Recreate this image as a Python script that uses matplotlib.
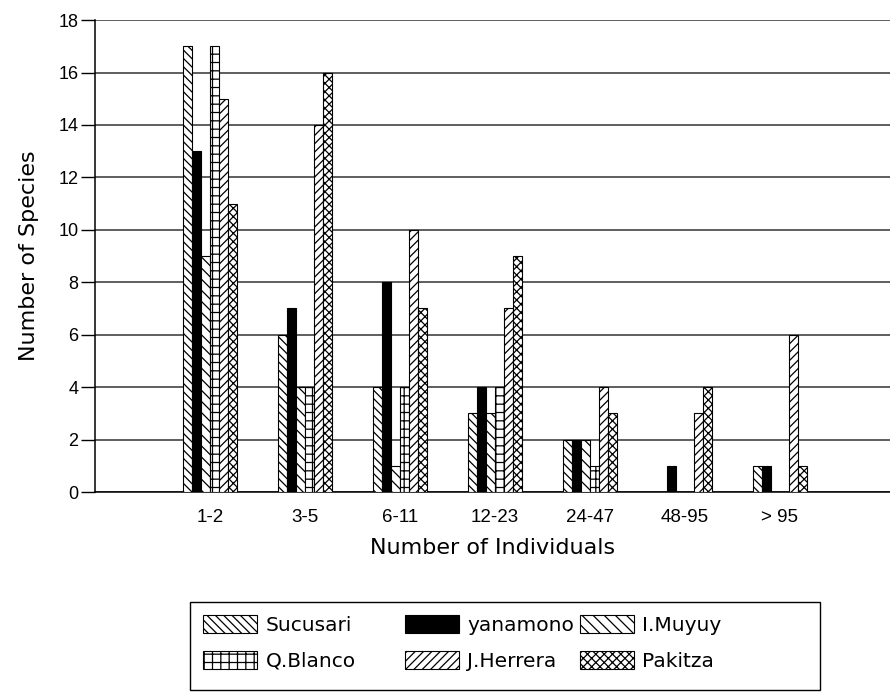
import numpy as np
import matplotlib
matplotlib.use('Agg')
import matplotlib.pyplot as plt
from matplotlib.patches import Rectangle

plt.rcParams['font.family'] = ['DejaVu Sans']
plt.rcParams['hatch.linewidth'] = 0.9

# Datos
categories = ['1-2', '3-5', '6-11', '12-23', '24-47', '48-95', '> 95']
sucusari = [17, 6, 4, 3, 2, 0, 1]
yanamono = [13, 7, 8, 4, 2, 1, 1]
imuyuy = [9, 4, 1, 3, 2, 0, 0]
qblanco = [17, 4, 4, 4, 1, 0, 0]
jherrera = [15, 14, 10, 7, 4, 3, 6]
pakitza = [11, 16, 7, 9, 3, 4, 1]

series = [('Sucusari', sucusari, 'white', '\\\\\\\\'),
          ('yanamono', yanamono, 'black', ''),
          ('I.Muyuy', imuyuy, 'white', '\\\\\\'),
          ('Q.Blanco', qblanco, 'white', '++'),
          ('J.Herrera', jherrera, 'white', '////'),
          ('Pakitza', pakitza, 'white', 'xxxx')]

fig = plt.figure(figsize=(8.9, 6.92), dpi=100)
ax = fig.add_axes([0.1067, 0.289, 0.8933, 0.682])

x = np.arange(len(categories))
w = 0.095
bars = []
for i, (name, vals, fc, hatch) in enumerate(series):
    b = ax.bar(x + (i - 2.5) * w, vals, w, color=fc, edgecolor='black',
               hatch=hatch, linewidth=0.8, label=name, zorder=3)
    bars.append(b)

ax.set_ylim(0, 18)
ax.set_xlim(-1.21, 7.16)
ax.set_yticks(range(0, 19, 2))
ax.set_xticks(x)
ax.set_xticklabels(categories, family='Liberation Sans')
for t in ax.get_yticklabels():
    t.set_family('Liberation Sans')
ax.yaxis.grid(True, color='#333333', linewidth=1.1, zorder=0)
ax.tick_params(axis='y', length=10, width=1, labelsize=13, pad=2)
ax.tick_params(axis='x', length=0, labelsize=13.5, pad=12)
for s in ['top', 'right']:
    ax.spines[s].set_visible(False)
ax.spines['left'].set_linewidth(1.1)
ax.spines['bottom'].set_linewidth(1.1)

ax.set_ylabel('Number of Species', fontsize=16, labelpad=14)
ax.set_xlabel('Number of Individuals', fontsize=16, labelpad=9)

# leyenda: una columna por leyenda, con marco aparte
columnas = [(203, [0, 3]), (405, [1, 4]), (580, [2, 5])]
for xpx, idx in columnas:
    leg = fig.legend([bars[k] for k in idx], [series[k][0] for k in idx],
                     loc='upper left', bbox_to_anchor=(xpx / 890, 1 - 615 / 692),
                     fontsize=14.5, frameon=False, borderpad=0,
                     handlelength=2.7, handleheight=1.0, borderaxespad=0,
                     labelspacing=0.8, handletextpad=0.4)
fig.patches.append(Rectangle((190 / 890, 2 / 692), 630 / 890, 88 / 692,
                             transform=fig.transFigure, fill=False,
                             edgecolor='black', linewidth=1.0))

plt.savefig('out.png', dpi=100)
